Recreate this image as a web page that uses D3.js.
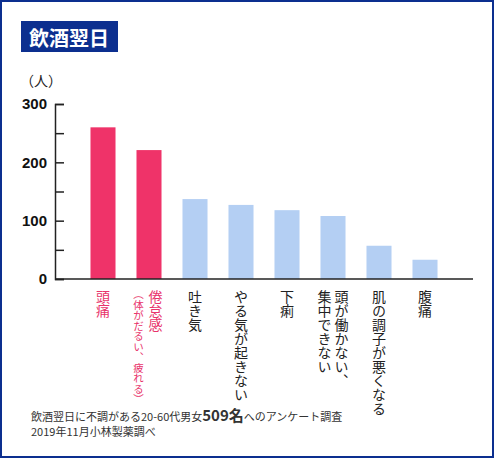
<!DOCTYPE html>
<html>
<head>
<meta charset="utf-8">
<script src="https://cdn.jsdelivr.net/npm/d3@7"></script>
<style>
  html, body { margin: 0; padding: 0; background: #fff; }
  svg { display: block; font-family: "Noto Sans CJK JP", "Noto Sans", sans-serif; }
</style>
</head>
<body>
<svg id="chart" width="494" height="458"></svg>
<script>
// data
var categories = ["頭痛", "倦怠感", "吐き気", "やる気が起きない", "下痢", "頭が働かない、", "肌の調子が悪くなる", "腹痛"];
var subLabels = ["", "（体がだるい、疲れる）", "", "", "", "集中できない", "", ""];
var values = [260, 221, 137, 127, 118, 108, 57, 33];
var yTicks = [0, 50, 100, 150, 200, 250, 300];
var yTickLabels = ["0", "", "100", "", "200", "", "300"];

var svg = d3.select("#chart"),
    width = +svg.attr("width"),
    height = +svg.attr("height");

var pink = "#ef3369", blue = "#b4cff3", navy = "#0c2f8f";

// frame
svg.append("rect")
    .attr("x", 1).attr("y", 1)
    .attr("width", width - 2).attr("height", height - 2)
    .attr("fill", "#fff")
    .attr("stroke", navy)
    .attr("stroke-width", 2);

// title box
svg.append("rect")
    .attr("x", 21).attr("y", 21)
    .attr("width", 97).attr("height", 31)
    .attr("fill", navy);
svg.append("text")
    .attr("x", 69).attr("y", 37)
    .attr("text-anchor", "middle")
    .attr("dominant-baseline", "central")
    .attr("fill", "#fff")
    .attr("font-size", 20)
    .attr("font-weight", "bold")
    .text("飲酒翌日");

// unit
svg.append("text")
    .attr("x", 20).attr("y", 80)
    .attr("dominant-baseline", "central")
    .attr("font-size", 14)
    .attr("fill", "#222")
    .text("（人）");

var x = d3.scaleBand()
    .domain(categories)
    .range([80, 448])
    .paddingInner(0.456)
    .paddingOuter(0.228);

var y = d3.scaleLinear()
    .domain([0, 300])
    .range([279, 104]);

// y axis, ticks pointing into the plot
var yAxis = d3.axisLeft(y)
    .tickValues(yTicks)
    .tickFormat(function(d, i) { return yTickLabels[i]; })
    .tickSizeInner(-9)
    .tickSizeOuter(-9)
    .tickPadding(8);

var gy = svg.append("g")
    .attr("transform", "translate(55,0)")
    .call(yAxis);
gy.selectAll("path, line").attr("stroke", "#222").attr("stroke-width", 1.5);
gy.selectAll("text")
    .attr("font-family", "'Liberation Sans', Arial, sans-serif")
    .attr("font-weight", "bold")
    .attr("font-size", 15)
    .attr("fill", "#111");

// bars
svg.append("g").selectAll("rect")
    .data(values)
    .enter().append("rect")
    .attr("x", function(d, i) { return x(categories[i]); })
    .attr("y", function(d) { return y(d); })
    .attr("width", x.bandwidth())
    .attr("height", function(d) { return y(0) - y(d); })
    .attr("fill", function(d, i) { return i < 2 ? pink : blue; });

// baseline
svg.append("line")
    .attr("x1", 55).attr("x2", 473)
    .attr("y1", y(0)).attr("y2", y(0))
    .attr("stroke", "#222")
    .attr("stroke-width", 1.5);

// vertical category labels
var labels = svg.append("g").selectAll("g")
    .data(categories)
    .enter().append("g");

labels.each(function(name, i) {
    var g = d3.select(this);
    var cx = x(name) + x.bandwidth() / 2;
    var col = i < 2 ? "#e8336b" : "#222";
    var sub = subLabels[i];
    var mainX = cx, subX = cx;
    if (sub) {
        var small = sub.length > 8;
        mainX = cx + (small ? 6.5 : 8.5);
        subX = cx - (small ? 10.5 : 8.5);
        g.append("text")
            .attr("x", subX).attr("y", small ? 289 : 290)
            .style("writing-mode", "vertical-rl")
            .attr("font-size", small ? 10.5 : 14)
            .attr("fill", col)
            .text(sub);
    }
    g.append("text")
        .attr("x", mainX).attr("y", 290)
        .style("writing-mode", "vertical-rl")
        .attr("font-size", 14)
        .attr("fill", col)
        .text(name);
});

// footnote
var note = svg.append("text")
    .attr("x", 31).attr("y", 421)
    .attr("font-size", 11)
    .attr("fill", "#333");
note.append("tspan").text("飲酒翌日に不調がある20-60代男女");
note.append("tspan").attr("font-size", 15).attr("font-weight", "bold").text("509名");
note.append("tspan").text("へのアンケート調査");

svg.append("text")
    .attr("x", 31).attr("y", 436)
    .attr("font-size", 11)
    .attr("fill", "#333")
    .text("2019年11月小林製薬調べ");
</script>
</body>
</html>
